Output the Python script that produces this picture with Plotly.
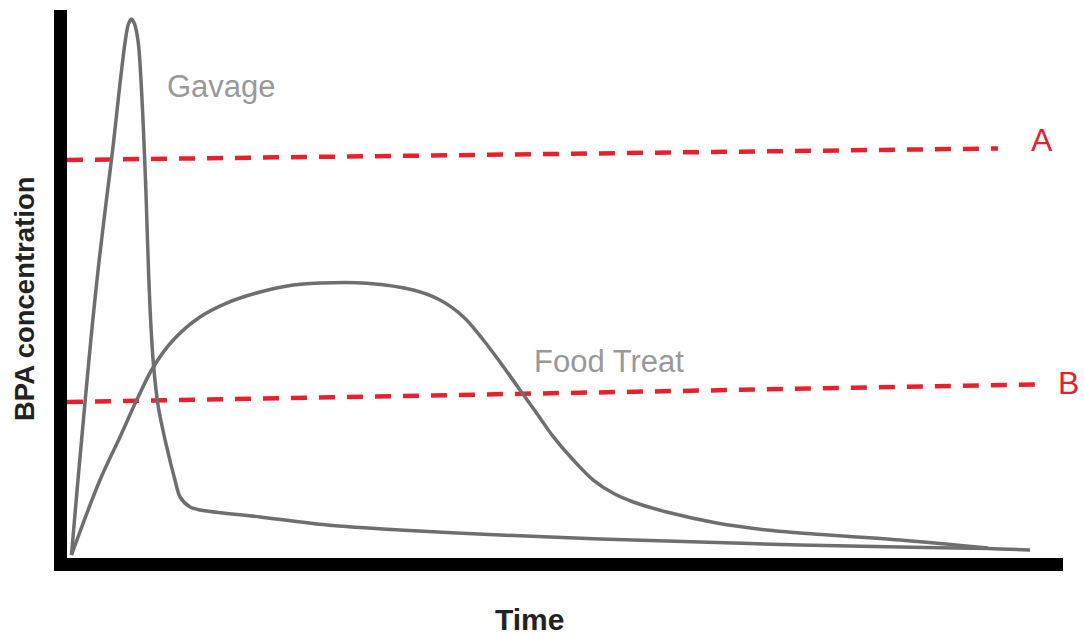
import plotly.graph_objects as go

# Time (arbitrary units, 0-100) and BPA concentration (arbitrary units, 0-100)
gavage_time = [0.45, 0.90, 1.41, 1.96, 2.56, 3.21, 3.92, 4.62, 5.20, 5.82, 6.17, 6.47, 6.78, 7.16,
               7.50, 7.73, 7.93, 8.08, 8.33, 8.67, 9.17, 10.01, 10.84, 11.35, 12.35, 13.35, 19.38,
               26.10, 33.43, 43.47, 53.51, 63.55, 73.59, 83.63, 92.47, 96.69]
gavage_conc = [0.55, 10.04, 20.44, 31.39, 42.88, 54.01, 64.78, 75.00, 84.60, 93.98, 97.45, 98.36, 97.45, 93.98,
               84.85, 75.73, 66.61, 58.03, 45.80, 35.58, 27.55, 20.26, 14.23, 11.13, 9.31, 8.76, 7.48,
               6.02, 5.11, 4.20, 3.47, 2.92, 2.37, 2.01, 1.73, 1.46]

food_time = [0.45, 3.31, 5.32, 7.00, 8.67, 10.67, 13.35, 16.03, 19.38, 22.72, 26.74,
             30.09, 34.77, 37.45, 39.79, 41.80, 43.81, 45.48, 47.16, 48.82, 50.83, 52.84,
             54.85, 56.86, 60.21, 65.23, 70.25, 73.59, 83.63, 92.47]
food_conc = [0.55, 14.23, 22.08, 28.83, 34.85, 39.78, 43.98, 46.53, 48.54, 49.82, 50.24,
             50.13, 48.91, 47.08, 44.03, 39.78, 34.91, 30.66, 26.41, 22.14, 17.88, 14.23,
             11.81, 10.22, 8.39, 6.39, 5.11, 4.56, 3.28, 1.82]

threshold_names = ["A", "B"]
threshold_time = [[0.0, 93.47], [0.0, 97.39]]
threshold_conc = [[72.63, 74.73], [28.47, 31.66]]

curve_labels = ["Gavage", "Food Treat"]
curve_label_time = [15.56, 54.42]
curve_label_conc = [86.1, 35.8]
threshold_label_time = [97.9, 100.6]
threshold_label_conc = [76.3, 31.9]

x_title = "Time"
y_title = "BPA concentration"

GRAY = "#6e6e6e"
RED = "#e8202e"
FONT = "Liberation Sans, Arial, sans-serif"
X_MAX = 100.0
Y_MAX = 100.0

fig = go.Figure()

for tx, ty in zip(threshold_time, threshold_conc):
    fig.add_trace(go.Scatter(x=tx, y=ty, mode="lines",
                             line=dict(color=RED, width=4.5, dash="16px,12px"),
                             hoverinfo="skip", showlegend=False))

fig.add_trace(go.Scatter(x=gavage_time, y=gavage_conc, mode="lines",
                         line=dict(color=GRAY, width=3.5, shape="spline", smoothing=0.8),
                         name="Gavage", showlegend=False))
fig.add_trace(go.Scatter(x=food_time, y=food_conc, mode="lines",
                         line=dict(color=GRAY, width=3.5, shape="spline", smoothing=1.0),
                         name="Food Treat", showlegend=False))

for t, x, y in zip(curve_labels, curve_label_time, curve_label_conc):
    fig.add_annotation(x=x, y=y, text=t, showarrow=False, xanchor="center", yanchor="middle",
                       font=dict(family=FONT, size=31, color="#999999"))
for t, x, y in zip(threshold_names, threshold_label_time, threshold_label_conc):
    fig.add_annotation(x=x / X_MAX, y=y / Y_MAX, xref="paper", yref="paper",
                       text=t, showarrow=False, xanchor="center", yanchor="middle",
                       font=dict(family=FONT, size=32, color=RED))

# axis titles (positioned like the original figure)
fig.add_annotation(x=0.4639, y=-0.1131, xref="paper", yref="paper",
                   text="<b>%s</b>" % x_title, showarrow=False,
                   xanchor="center", yanchor="middle",
                   font=dict(family=FONT, size=30, color="#222222"))
fig.add_annotation(x=-0.0432, y=0.4726, xref="paper", yref="paper",
                   text="<b>%s</b>" % y_title, showarrow=False, textangle=-90,
                   xanchor="center", yanchor="middle",
                   font=dict(family=FONT, size=27.5, color="#222222"))

axis_common = dict(showline=True, linewidth=13, linecolor="black", ticks="",
                   showticklabels=False, showgrid=False, zeroline=False, fixedrange=True)

fig.update_layout(
    width=1084, height=635,
    margin=dict(l=67, r=21, t=10, b=77, autoexpand=False),
    paper_bgcolor="white", plot_bgcolor="white",
    showlegend=False,
    xaxis=dict(range=[0, X_MAX], **axis_common),
    yaxis=dict(range=[0, Y_MAX], **axis_common),
)

fig.write_html("out.html", config={"displayModeBar": False},
               post_script="document.body.style.margin='0';document.body.style.overflow='hidden';")
